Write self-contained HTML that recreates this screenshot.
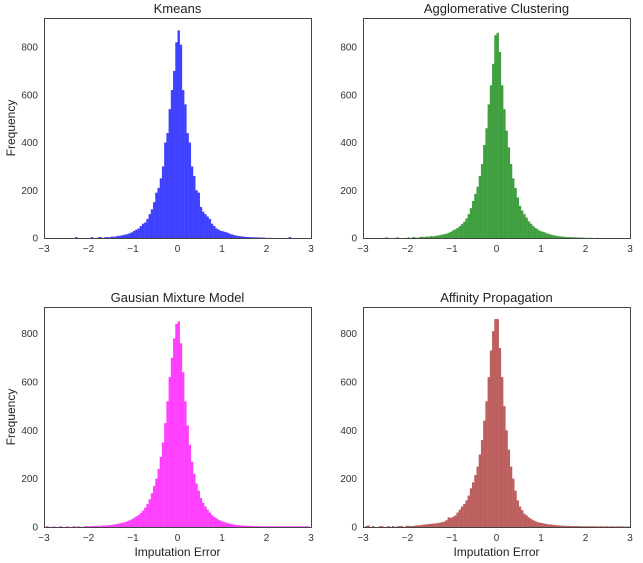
<!DOCTYPE html>
<html><head><meta charset="utf-8">
<style>
body{margin:0;background:#fff;}
svg{display:block;font-family:"Liberation Sans",sans-serif;}
</style></head>
<body>
<svg id="fig" width="643" height="563"></svg>
<script>
const binStart = -3, binWidth = 0.05;
const xTicks = [-3,-2,-1,0,1,2,3];
const yTicks = [0,200,400,600,800];
const titles = ["Kmeans","Agglomerative Clustering","Gausian Mixture Model","Affinity Propagation"];
const kmeansCounts = [0,0,0,0,0,0,0,0,0,0,0,0,0,0,4,0,0,0,0,0,
 0,4,0,0,3,4,0,3,4,3, 6,5,7,9,10,12,14,16,20,24,
 30,35,40,50,60,65,80,100,120,150, 190,210,250,300,400,440,540,620,700,820,
 870,810,620,560,440,400,300,260,200,190, 130,110,100,90,80,60,50,40,35,30,
 28,25,22,18,15,12,10,8,7,6, 5,4,4,3,3,3,2,2,2,1,
 0,1,0,0,0,0,0,0,0,0,4,0,0,0,0,0,0,0,0,0];
const agglomerativeCounts = [0,0,0,0,0,0,0,0,0,0,3,0,0,0,0,3,0,0,0,0,
 3,0,4,3,0,4,5,4,6,5, 8,7,9,10,12,14,16,18,22,26,
 32,36,42,50,58,68,82,100,125,155, 185,215,260,310,390,460,560,640,730,850,
 860,780,640,540,450,380,310,250,210,170, 135,115,100,85,70,60,50,42,36,30,
 27,24,20,17,14,12,10,8,7,6, 5,4,4,3,3,3,2,2,2,1,
 1,0,1,0,0,1,0,0,0,0,0,0,0,0,0,0,0,0,0,0];
const gmmCounts = [0,4,0,0,3,0,0,4,0,0,3,0,0,4,0,3,0,0,4,3,
 3,4,4,5,4,5,6,6,7,8, 9,10,12,14,16,18,20,24,28,32,
 38,44,50,58,68,80,95,115,140,170, 200,240,290,350,430,520,620,700,780,840,
 850,760,640,520,420,340,270,220,180,150, 120,100,85,72,60,50,42,36,30,26,
 22,19,16,14,12,10,9,8,7,6, 6,5,5,4,4,4,4,3,3,3,
 3,3,3,3,3,3,3,3,3,3,3,3,3,3,3,3,3,3,3,0];
const affinityCounts = [0,4,6,0,4,0,0,3,4,0,0,4,0,4,0,3,4,4,0,5,
 5,4,4,6,7,7,9,10,11,12, 13,14,15,16,18,20,22,28,40,38,
 42,48,60,72,85,95,110,130,160,185, 215,250,300,360,440,520,620,730,810,860,
 860,740,620,500,400,320,250,200,150,110, 85,70,55,48,40,34,28,24,20,18,
 16,14,12,11,10,9,8,7,6,6, 5,5,5,4,4,4,4,3,3,3,
 3,3,3,3,3,2,3,3,2,3,2,3,2,2,3,2,3,2,2,2];
const seriesCounts = [kmeansCounts, agglomerativeCounts, gmmCounts, affinityCounts];
const colors = ["#4040ff","#40a040","#ff40ff","#bc5f5f"];
const yMaxes = [922,922,910,910];
const boxes = [{x:44,y:18},{x:363,y:18},{x:44,y:307},{x:363,y:307}];
const W = 267, H = 220;
const svg = document.getElementById('fig');
const NS = "http://www.w3.org/2000/svg";
function mk(tag, attrs, parent){const e=document.createElementNS(NS,tag);for(const k in attrs)e.setAttribute(k,attrs[k]);(parent||svg).appendChild(e);return e;}
const slugs = ["kmeans","agglomerative","gmm","affinity"];
boxes.forEach((b,p)=>{
  const g = mk('g',{});
  
  
  const xs = v => b.x + (v+3)/6*W;
  const ys = v => b.y + H - v/yMaxes[p]*H;
  seriesCounts[p].forEach((c,i)=>{
    if(!c) return;
    const x0 = xs(binStart+i*binWidth), x1 = xs(binStart+(i+1)*binWidth);
    const r = mk('rect',{x:x0,y:ys(c),width:x1-x0+0.2,height:ys(0)-ys(c),fill:colors[p]},g);
    
    
  });
  const fr = mk('rect',{x:b.x+0.5,y:b.y+0.5,width:W,height:H,fill:'none',stroke:'#444','stroke-width':1},g);
  
  
  xTicks.forEach(t=>{
    const tx = mk('text',{x:xs(t),y:b.y+H+14,'font-size':10,fill:'#333','text-anchor':'middle'},g);
    tx.textContent = t<0 ? '\u2212'+(-t) : String(t);
    
    
  });
  yTicks.forEach(t=>{
    const ty = mk('text',{x:b.x-6,y:ys(t)+3.5,'font-size':10,fill:'#333','text-anchor':'end'},g);
    ty.textContent = String(t);
    
    
  });
  const tt = mk('text',{x:b.x+W/2,y:b.y-5,'font-size':13,fill:'#222','text-anchor':'middle'},g);
  tt.textContent = titles[p];
  
  
  if(p%2===0){
    const yl = mk('text',{x:0,y:0,'font-size':12,fill:'#222','text-anchor':'middle',transform:`translate(15,${b.y+H/2}) rotate(-90)`},g);
    yl.textContent = 'Frequency';
    
    
  }
  if(p>=2){
    const xl = mk('text',{x:b.x+W/2,y:b.y+H+29,'font-size':12,fill:'#222','text-anchor':'middle'},g);
    xl.textContent = 'Imputation Error';
    
    
  }
});
</script>
</body></html>
